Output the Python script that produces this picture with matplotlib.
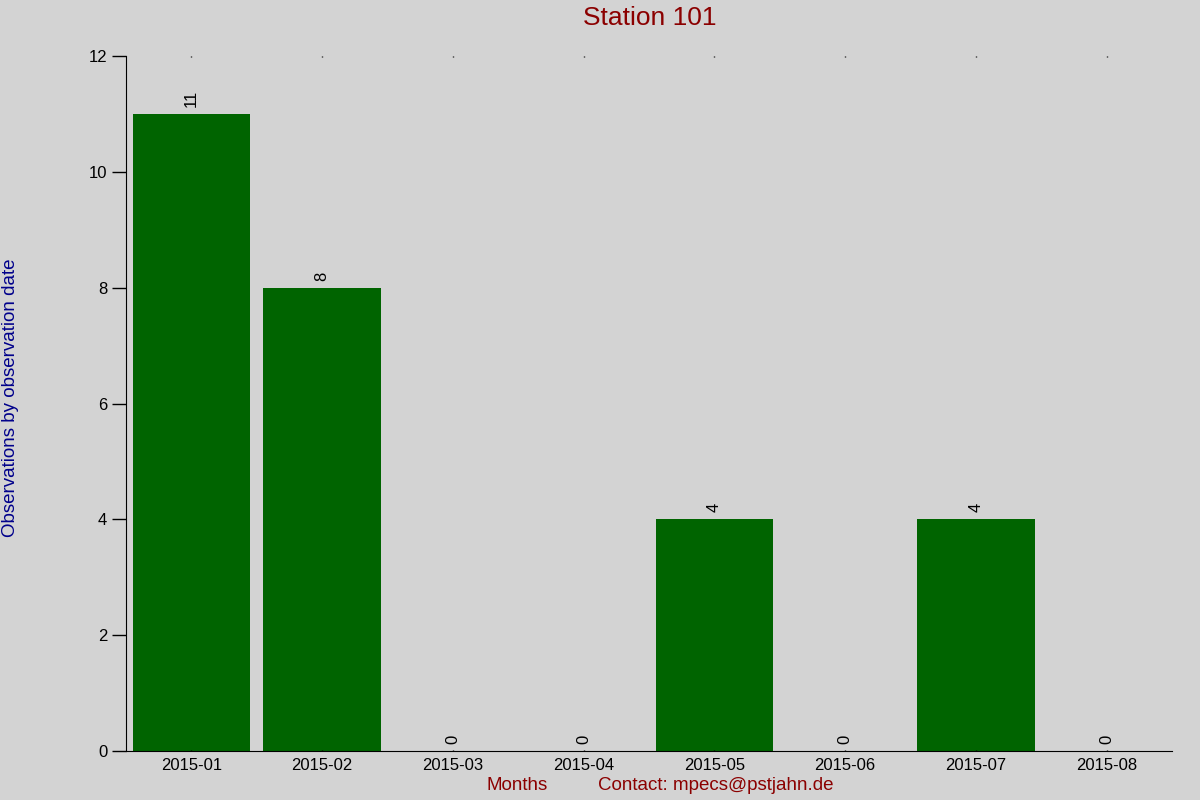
import numpy as np
import matplotlib.pyplot as plt

plt.rcParams['font.family'] = ['Liberation Sans', 'DejaVu Sans']

# data
months = ['2015-01', '2015-02', '2015-03', '2015-04', '2015-05', '2015-06', '2015-07', '2015-08']
counts = [11, 8, 0, 0, 4, 0, 4, 0]

bg = '#d3d3d3'
fig = plt.figure(figsize=(12, 8), dpi=100, facecolor=bg)
ax = fig.add_axes([0.105, 0.06125, 0.8717, 0.86875], facecolor=bg)

x = np.arange(len(months))
bars = ax.bar(x, counts, width=0.9, color='#006400')

ax.set_xlim(-0.5, len(months) - 0.5)
ax.set_ylim(0, 12)
ax.set_yticks(range(0, 13, 2))
ax.set_xticks(x)
ax.set_xticklabels(months)

for s in ['top', 'right']:
    ax.spines[s].set_visible(False)
ax.tick_params(axis='y', direction='out', length=10, width=1, labelsize=12)
ax.tick_params(axis='x', length=0, labelsize=12, pad=5)
# small marks along the top at each month
ax.tick_params(axis='x', which='both', top=True, direction='in', length=1, width=1)

for rect, v in zip(bars, counts):
    ax.annotate(str(v), xy=(rect.get_x() + rect.get_width() / 2, v),
                xytext=(0, 5), textcoords='offset points',
                ha='center', va='bottom', rotation=90, fontsize=12)

fig.text(0.5417, 0.977, 'Station 101', ha='center', va='center', color='#8b0000', fontsize=19)
fig.text(0.009, 0.503, 'Observations by observation date', rotation=90,
         ha='center', va='center', color='#00008b', fontsize=13.5)
fig.text(0.431, 0.018, 'Months', ha='center', va='center', color='#8b0000', fontsize=13.5)
fig.text(0.4983, 0.018, 'Contact: mpecs@pstjahn.de', ha='left', va='center', color='#8b0000', fontsize=13.5)

fig.savefig('out.png', dpi=100, facecolor=bg)
